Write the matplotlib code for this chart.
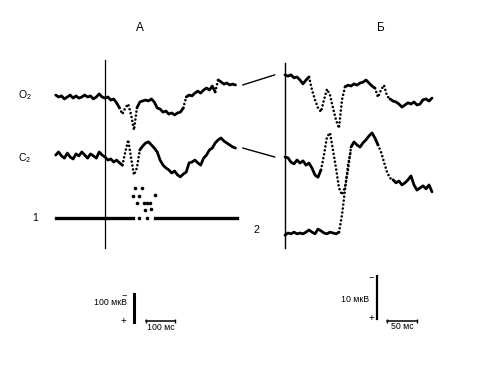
import numpy as np
import matplotlib.pyplot as plt
from matplotlib.patches import ConnectionPatch

plt.rcParams['font.family'] = ['Liberation Sans', 'DejaVu Sans']
plt.rcParams['mathtext.default'] = 'regular'

# ---- panel A: samples every 10 ms, values in uV (negative = up)
a_time = np.arange(-170, 451, 10)
a_o2 = [-7, 0, -4, 7, 0, -7, 4, -4, 4, 0,
        -7, 0, -4, 7, 0, -11, 0, 4, 0, 11,
        7, 21, 39, 61, 39, 25, 64, 118, 39, 18,
        14, 11, 14, 7, 18, 39, 43, 54, 50, 61,
        57, 64, 57, 54, 39, 0, -7, -4, -14, -21,
        -14, -25, -32, -25, -39, -18, -61, -54, -46, -50,
        -43, -46, -43]
a_c2 = [-7, -18, -4, 4, -14, 0, 7, -11, -4, -18,
        -7, 4, -11, -4, 4, -18, -7, 0, 11, 7,
        18, 11, 21, 29, -18, -61, 4, 64, 39, -25,
        -39, -50, -54, -43, -32, -18, 11, 29, 39, 46,
        57, 50, 64, 71, 61, 54, 21, 18, 11, 21,
        29, 4, -7, -25, -32, -50, -61, -68, -57, -50,
        -43, -36, -32]
# channel 1: baseline with a gap, plus the off-trace dots
stim_t = [-170, 97, np.nan, 172, 455]
stim_v = [0, 0, np.nan, 0, 0]
stim_dot_t = [103, 128, 97, 117, 172, 110, 134, 145, 155, 138, 159, 117, 145]
stim_dot_v = [-107, -107, -79, -79, -82, -54, -54, -54, -54, -29, -32, 0, 0]

# ---- panel B: samples every 5 ms
b_time = np.arange(0, 246, 5)
b_o2 = [-0.5, -0.2, -0.5, 0.2, 0.0, 0.7, 1.6, 0.7, 0.0, 3.0,
        5.3, 7.2, 8.1, 5.3, 2.8, 4.2, 7.2, 10.0, 11.9, 5.3,
        2.3, 1.9, 2.1, 1.6, 1.9, 1.4, 1.2, 0.7, 1.4, 2.1,
        2.6, 4.7, 3.0, 1.9, 4.4, 5.1, 5.6, 5.8, 6.3, 7.0,
        6.5, 6.0, 6.3, 5.8, 6.5, 6.3, 5.3, 5.1, 5.6, 4.9]
b_c2 = [0.0, 0.2, 1.2, 1.6, 0.7, 1.4, 0.9, 1.9, 1.4, 2.6,
        4.2, 4.7, 3.0, -0.5, -4.7, -5.6, -1.6, 2.6, 7.2, 8.8,
        7.0, 3.0, -2.3, -3.5, -2.8, -2.3, -3.3, -4.0, -4.9, -5.6,
        -4.4, -2.8, -1.2, 1.2, 3.5, 4.9, 5.3, 6.0, 5.6, 6.5,
        6.0, 5.3, 4.4, 6.5, 7.7, 7.2, 6.7, 7.4, 6.5, 8.1]
b_ch2 = [0.5, 0.0, 0.2, -0.2, 0.2, 0.0, 0.2, -0.2, -0.7, -0.2,
         0.2, -0.9, -0.5, 0.0, 0.2, -0.2, 0.0, 0.2, -0.2, -4.2,
         -10.0, -15.8, -19.3]

# fast parts of each trace are drawn dotted (time ranges, ms)
a_o2_fast = [(50, 110), (270, 280), (380, 390)]
a_c2_fast = [(60, 120)]
b_o2_fast = [(40, 100), (150, 175)]
b_c2_fast = [(60, 110), (155, 180)]
b_ch2_fast = [(90, 110)]

W, H = 491, 365
fig = plt.figure(figsize=(W / 100, H / 100), dpi=100)
fig.patch.set_facecolor('white')

TOP, BOTTOM = 50, 340  # pixel rows covered by the panel axes


def panel_axes(left, right, zero_col, px_ms, px_uv):
    ax = fig.add_axes([left / W, (H - BOTTOM) / H, (right - left) / W, (BOTTOM - TOP) / H])
    ax.set_xlim((left - zero_col) / px_ms, (right - zero_col) / px_ms)
    ax.set_ylim((BOTTOM - TOP) / px_uv, 0)
    ax.axis('off')
    return ax


def row(r, px_uv):
    return (r - TOP) / px_uv


def draw_trace(ax, t, v, offset, fast, lw=2.0):
    t = np.asarray(t, float)
    y = np.asarray(v, float) + offset
    seg_fast = np.zeros(len(t) - 1, bool)
    for lo, hi in fast:
        seg_fast |= (t[:-1] >= lo) & (t[1:] <= hi)
    start = 0
    for i in range(1, len(seg_fast) + 1):
        if i == len(seg_fast) or seg_fast[i] != seg_fast[start]:
            sl = slice(start, i + 1)
            if seg_fast[start]:
                ax.plot(t[sl], y[sl], color='k', lw=1.9, linestyle=(0, (0.01, 1.5)),
                        dash_capstyle='round')
            else:
                ax.plot(t[sl], y[sl], color='k', lw=lw, solid_capstyle='round',
                        solid_joinstyle='round')
            start = i


# ---------------- panel A
A_MS, A_UV = 0.29, 0.28
axA = panel_axes(40, 250, 105, A_MS, A_UV)
oA_o2, oA_c2, oA_st = row(97, A_UV), row(157, A_UV), row(218, A_UV)
axA.plot([0, 0], [row(60, A_UV), row(248, A_UV)], color='k', lw=0.9)
draw_trace(axA, a_time, a_o2, oA_o2, a_o2_fast)
draw_trace(axA, a_time, a_c2, oA_c2, a_c2_fast)
axA.plot(stim_t, np.array(stim_v) + oA_st, color='k', lw=2.4)
axA.plot(stim_dot_t, np.array(stim_dot_v) + oA_st, 'o', color='k', ms=2.6, mew=0)

# scale bars A (100 uV, 100 ms)
sbA_t, sbA_y = 100, row(294, A_UV)
axA.plot([sbA_t, sbA_t], [sbA_y, sbA_y + 100], color='k', lw=2.2)
axA.plot([sbA_t + 41, sbA_t + 141], [sbA_y + 97, sbA_y + 97], color='k', lw=1.1,
         marker='|', ms=3, mew=1)
axA.text(sbA_t - 25, sbA_y + 30, '100 мкВ', fontsize=6.3, ha='right', va='center')
axA.text(sbA_t - 25, sbA_y + 2, '−', fontsize=6.5, ha='right', va='center')
axA.text(sbA_t - 25, sbA_y + 95, '+', fontsize=7, ha='right', va='center')
axA.text(sbA_t + 91, sbA_y + 118, '100 мс', fontsize=6.3, ha='center', va='center')

# ---------------- panel B
B_MS, B_UV = 0.6, 4.3
axB = panel_axes(255, 460, 285, B_MS, B_UV)
oB_o2, oB_c2, oB_2 = row(77, B_UV), row(157, B_UV), row(233, B_UV)
axB.plot([0, 0], [row(63, B_UV), row(248, B_UV)], color='k', lw=1.0)
draw_trace(axB, b_time, b_o2, oB_o2, b_o2_fast)
draw_trace(axB, b_time, b_c2, oB_c2, b_c2_fast)
draw_trace(axB, b_time[:len(b_ch2)], b_ch2, oB_2, b_ch2_fast)

# scale bars B (10 uV, 50 ms)
sbB_t, sbB_y = 153, row(276, B_UV)
axB.plot([sbB_t, sbB_t], [sbB_y, sbB_y + 10], color='k', lw=1.6)
axB.plot([sbB_t + 17, sbB_t + 67], [sbB_y + 10.4, sbB_y + 10.4], color='k', lw=1.1,
         marker='|', ms=3, mew=1)
axB.text(sbB_t - 12, sbB_y + 5.5, '10 мкВ', fontsize=6.3, ha='right', va='center')
axB.text(sbB_t - 5, sbB_y + 0.2, '−', fontsize=6.5, ha='right', va='center')
axB.text(sbB_t - 5, sbB_y + 9.8, '+', fontsize=7, ha='right', va='center')
axB.text(sbB_t + 42, sbB_y + 11.8, '50 мс', fontsize=6.3, ha='center', va='center')

# connectors from panel A to the expanded panel B
for ya, yb in [(a_o2[-1] + oA_o2, b_o2[0] + oB_o2), (a_c2[-1] + oA_c2, b_c2[0] + oB_c2)]:
    con = ConnectionPatch(xyA=(a_time[-1] + 25, ya), coordsA='data', axesA=axA,
                          xyB=(-17, yb), coordsB='data', axesB=axB,
                          color='k', lw=1.0)
    fig.add_artist(con)

# labels
fig.text(140 / W, 1 - 28 / H, 'А', fontsize=8.5, ha='center', va='center')
fig.text(381 / W, 1 - 28 / H, 'Б', fontsize=8.5, ha='center', va='center')
fig.text(25 / W, 1 - 95 / H, 'O$_2$', fontsize=7.5, ha='center', va='center')
fig.text(25 / W, 1 - 158 / H, 'C$_2$', fontsize=7.5, ha='center', va='center')
fig.text(35 / W, 1 - 218 / H, '1', fontsize=7.5, ha='center', va='center')
fig.text(256 / W, 1 - 230 / H, '2', fontsize=7.5, ha='center', va='center')

fig.savefig('out.png', dpi=100)
